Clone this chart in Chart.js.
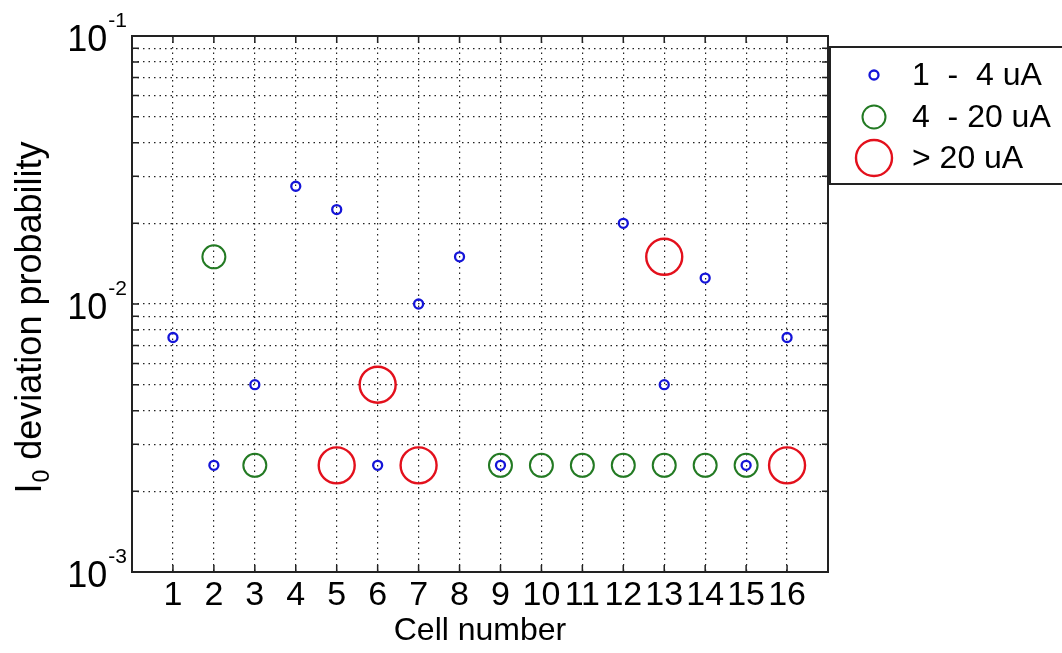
<!DOCTYPE html>
<html>
<head>
<meta charset="utf-8">
<script src="https://cdn.jsdelivr.net/npm/chart.js@4.4.1/dist/chart.umd.min.js"></script>
<style>
    html, body { margin: 0; padding: 0; background: #fff; }
    #wrap { width: 1062px; height: 653px; }
</style>
</head>
<body>
<div id="wrap"><canvas id="chart" width="1062" height="653"></canvas></div>
<script>
const cells = [1, 2, 3, 4, 5, 6, 7, 8, 9, 10, 11, 12, 13, 14, 15, 16];

const lowCells = [1, 2, 3, 4, 5, 6, 7, 8, 9, 12, 13, 14, 15, 16];
const lowValues = [0.0075, 0.0025, 0.005, 0.0275, 0.0225, 0.0025, 0.01, 0.015, 0.0025, 0.02, 0.005, 0.0125, 0.0025, 0.0075];

const midCells = [2, 3, 9, 10, 11, 12, 13, 14, 15];
const midValues = [0.015, 0.0025, 0.0025, 0.0025, 0.0025, 0.0025, 0.0025, 0.0025, 0.0025];

const highCells = [5, 6, 7, 13, 16];
const highValues = [0.0025, 0.005, 0.0025, 0.015, 0.0025];

const seriesLabels = ["1  -  4 uA", "4  - 20 uA", "> 20 uA"];
const decadeValues = [0.001, 0.01, 0.1];
const decadeExponents = ["-3", "-2", "-1"];

const FONT = "'Liberation Sans', Arial, sans-serif";

const toPoints = (xs, ys) => xs.map((x, i) => ({ x: x, y: ys[i] }));

// inward ticks, box, y labels, y title and the legend
const decorations = {
    id: "decorations",
    afterDraw(chart) {
        const ctx = chart.ctx;
        const area = chart.chartArea;
        const xs = chart.scales.x;
        const ys = chart.scales.y;

        ctx.save();
        ctx.strokeStyle = "#222";
        ctx.lineWidth = 1.5;
        ctx.setLineDash([]);
        ctx.beginPath();
        xs.ticks.forEach(t => {
            const px = xs.getPixelForValue(t.value);
            ctx.moveTo(px, area.bottom);
            ctx.lineTo(px, area.bottom - 7);
            ctx.moveTo(px, area.top);
            ctx.lineTo(px, area.top + 7);
        });
        ys.ticks.forEach(t => {
            const py = ys.getPixelForValue(t.value);
            ctx.moveTo(area.left, py);
            ctx.lineTo(area.left + 7, py);
            ctx.moveTo(area.right, py);
            ctx.lineTo(area.right - 6, py);
        });
        ctx.stroke();
        ctx.lineWidth = 2;
        ctx.strokeRect(area.left, area.top, area.right - area.left, area.bottom - area.top);

        // y tick labels 10^n
        ctx.fillStyle = "#000";
        ctx.textBaseline = "middle";
        decadeValues.forEach((v, i) => {
            const py = ys.getPixelForValue(v);
            ctx.font = "21px " + FONT;
            ctx.textAlign = "right";
            const expW = ctx.measureText(decadeExponents[i]).width;
            ctx.fillText(decadeExponents[i], area.left - 5, py - 15);
            ctx.font = "36px " + FONT;
            ctx.fillText("10", area.left - 6 - expW, py + 5);
        });

        // y title with subscript
        ctx.save();
        ctx.translate(41, 318);
        ctx.rotate(-Math.PI / 2);
        ctx.textBaseline = "alphabetic";
        ctx.textAlign = "left";
        const partA = "I";
        const partC = " deviation probability";
        ctx.font = "36px " + FONT;
        const wA = ctx.measureText(partA).width;
        const wC = ctx.measureText(partC).width;
        ctx.font = "23px " + FONT;
        const wB = ctx.measureText("0").width;
        const x0 = -(wA + wB + wC) / 2;
        ctx.font = "36px " + FONT;
        ctx.fillText(partA, x0, 0);
        ctx.font = "23px " + FONT;
        ctx.fillText("0", x0 + wA + 1, 8);
        ctx.font = "36px " + FONT;
        ctx.fillText(partC, x0 + wA + wB + 1, 0);
        ctx.restore();

        // legend box
        const box = { left: 830, top: 47, bottom: 184, right: 1070 };
        ctx.fillStyle = "#fff";
        ctx.fillRect(box.left, box.top, box.right - box.left, box.bottom - box.top);
        ctx.lineWidth = 2;
        ctx.strokeStyle = "#222";
        ctx.strokeRect(box.left, box.top, box.right - box.left, box.bottom - box.top);

        const rowY = [75, 117, 158];
        chart.data.datasets.forEach((ds, i) => {
            ctx.beginPath();
            ctx.lineWidth = ds.pointBorderWidth;
            ctx.strokeStyle = ds.borderColor;
            ctx.arc(874, rowY[i], ds.pointRadius, 0, Math.PI * 2);
            ctx.stroke();
            ctx.fillStyle = "#000";
            ctx.font = "32px " + FONT;
            ctx.textAlign = "left";
            ctx.textBaseline = "middle";
            ctx.fillText(ds.label, 912, rowY[i] + 1);
        });
        ctx.restore();
    }
};

window.addEventListener("load", () => {
    const ctx = document.querySelector("#chart");

    new Chart(ctx, {
        type: "scatter",
        data: {
            datasets: [{
                label: seriesLabels[0],
                data: toPoints(lowCells, lowValues),
                borderColor: "#1414d8",
                backgroundColor: "rgba(0,0,0,0)",
                pointRadius: 4.5,
                pointBorderWidth: 2.3
            }, {
                label: seriesLabels[1],
                data: toPoints(midCells, midValues),
                borderColor: "#237a23",
                backgroundColor: "rgba(0,0,0,0)",
                pointRadius: 11.5,
                pointBorderWidth: 2
            }, {
                label: seriesLabels[2],
                data: toPoints(highCells, highValues),
                borderColor: "#e3101c",
                backgroundColor: "rgba(0,0,0,0)",
                pointRadius: 18,
                pointBorderWidth: 2.4
            }]
        },
        options: {
            responsive: false,
            animation: false,
            layout: {
                padding: { left: 132, top: 36, right: 234, bottom: 6 }
            },
            scales: {
                x: {
                    type: "linear",
                    min: 0,
                    max: 17,
                    afterBuildTicks: (scale) => {
                        scale.ticks = cells.map(c => ({ value: c }));
                    },
                    afterFit: (scale) => {
                        scale.height = 75;
                    },
                    grid: {
                        color: "#222",
                        lineWidth: 1.2,
                        drawTicks: false
                    },
                    border: {
                        display: false,
                        dash: [1.5, 4]
                    },
                    ticks: {
                        color: "#000",
                        padding: 7,
                        autoSkip: false,
                        maxRotation: 0,
                        font: { family: FONT, size: 34, lineHeight: 1 },
                        callback: (v) => String(v)
                    },
                    title: {
                        display: true,
                        text: "Cell number",
                        color: "#000",
                        padding: { top: 2, bottom: 0 },
                        font: { family: FONT, size: 32, lineHeight: 1 }
                    }
                },
                y: {
                    type: "logarithmic",
                    min: 0.001,
                    max: 0.1,
                    afterBuildTicks: (scale) => {
                        const list = [];
                        decadeValues.slice(0, 2).forEach(d => {
                            for (let k = 1; k < 10; k++) list.push({ value: d * k });
                        });
                        list.push({ value: 0.1 });
                        scale.ticks = list;
                    },
                    grid: {
                        color: "#222",
                        lineWidth: 1.2,
                        drawTicks: false
                    },
                    border: {
                        display: false,
                        dash: [1.5, 4]
                    },
                    ticks: { display: false },
                    title: { display: false }
                }
            },
            plugins: {
                legend: { display: false },
                tooltip: { enabled: false }
            }
        },
        plugins: [decorations]
    });
});
</script>
</body>
</html>
